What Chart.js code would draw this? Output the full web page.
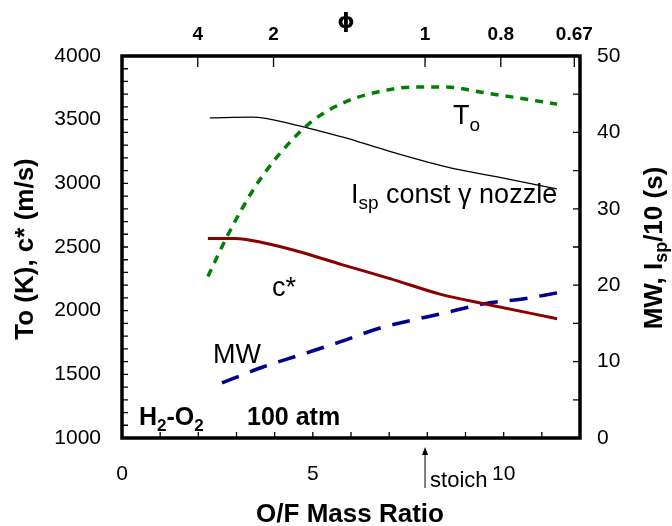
<!DOCTYPE html>
<html>
<head>
<meta charset="utf-8">
<script src="https://cdn.jsdelivr.net/npm/chart.js@4.4.1/dist/chart.umd.min.js"></script>
<style>
  html, body { margin: 0; padding: 0; background: #fff; }
</style>
</head>
<body>
<canvas id="chart" width="672" height="526"></canvas>
<script>
const FONT = "'Liberation Sans', Arial, sans-serif";

// O/F mass ratio and values
const t0OF = [2.25, 2.78, 3.48, 4.19, 4.98, 5.84, 6.8, 7.62, 8.51, 9.38, 10.24, 11.4];
const t0K = [2268, 2598, 2969, 3252, 3488, 3638, 3724, 3756, 3756, 3717, 3677, 3622];

const cStarOF = [2.25, 2.96, 3.67, 4.72, 5.76, 7.02, 8.33, 9.64, 11.4];
const cStar = [2567, 2567, 2535, 2457, 2362, 2252, 2130, 2045, 1937];

const ispOF = [2.3, 3.41, 4.53, 5.84, 6.76, 8.5, 9.8, 11.4];
const ispOver10 = [41.9, 42.0, 41.0, 39.3, 37.9, 35.5, 34.2, 32.6];

const mwOF = [2.62, 3.62, 4.66, 5.71, 6.76, 7.28, 8.3, 9.64, 10.5, 11.4];
const mw = [7.2, 9.16, 10.86, 12.57, 14.4, 15.05, 16.2, 17.7, 18.2, 19.0];

// top axis: equivalence ratio
const phiLabels = ["4", "2", "1", "0.8", "0.67"];
const phiValues = [4, 2, 1, 0.8, 0.67];
const stoichOF = 7.94;

const pts = (xs, ys) => xs.map((x, i) => ({ x, y: ys[i] }));

// draw text pieces one after another (for subscripts)
function drawRuns(ctx, x, y, runs) {
  runs.forEach((r) => {
    ctx.font = (r.bold ? "bold " : "") + r.size + "px " + FONT;
    ctx.fillText(r.t, x, y + (r.dy || 0));
    x += ctx.measureText(r.t).width;
  });
  return x;
}
function runsWidth(ctx, runs) {
  let w = 0;
  runs.forEach((r) => {
    ctx.font = (r.bold ? "bold " : "") + r.size + "px " + FONT;
    w += ctx.measureText(r.t).width;
  });
  return w;
}

const decor = {
  id: "decor",
  afterDraw(chart) {
    const { ctx, chartArea: a, scales } = chart;
    const x = scales.x, y = scales.y, y1 = scales.y1;
    ctx.save();
    ctx.strokeStyle = "#000";
    ctx.fillStyle = "#000";

    // frame
    ctx.lineWidth = 3.5;
    ctx.strokeRect(a.left, a.top, a.right - a.left, a.bottom - a.top);

    // inward tick marks
    ctx.lineWidth = 1.3;
    ctx.beginPath();
    for (let v = 1; v <= 11; v++) {
      const px = x.getPixelForValue(v);
      ctx.moveTo(px, a.bottom); ctx.lineTo(px, a.bottom - 6);
    }
    for (let v = 1100; v < 4000; v += 100) {
      const py = y.getPixelForValue(v);
      ctx.moveTo(a.left, py); ctx.lineTo(a.left + 6, py);
    }
    for (let v = 5; v < 50; v += 5) {
      const py = y1.getPixelForValue(v);
      ctx.moveTo(a.right, py); ctx.lineTo(a.right - 7, py);
    }
    phiValues.forEach((p) => {
      const px = x.getPixelForValue(stoichOF / p);
      ctx.moveTo(px, a.top); ctx.lineTo(px, a.top + 11);
    });
    ctx.stroke();

    // stoich arrow
    const sx = x.getPixelForValue(stoichOF);
    ctx.lineWidth = 1;
    ctx.beginPath();
    ctx.moveTo(sx, 488); ctx.lineTo(sx, 450);
    ctx.stroke();
    ctx.beginPath();
    ctx.moveTo(sx, 447); ctx.lineTo(sx - 3, 455); ctx.lineTo(sx + 3, 455);
    ctx.closePath(); ctx.fill();
    ctx.textAlign = "left";
    ctx.textBaseline = "alphabetic";
    drawRuns(ctx, sx + 5, 487, [{ t: "stoich", size: 22 }]);

    // curve labels
    drawRuns(ctx, 453, 124, [{ t: "T", size: 27 }, { t: "o", size: 19, dy: 7 }]);
    drawRuns(ctx, 351, 203, [{ t: "I", size: 27 }, { t: "sp", size: 19, dy: 6 }, { t: " const γ nozzle", size: 27 }]);
    drawRuns(ctx, 272, 296, [{ t: "c*", size: 27 }]);
    drawRuns(ctx, 213, 363, [{ t: "MW", size: 27 }]);

    drawRuns(ctx, 139, 425, [
      { t: "H", size: 25, bold: true }, { t: "2", size: 17, bold: true, dy: 6 },
      { t: "-O", size: 25, bold: true }, { t: "2", size: 17, bold: true, dy: 6 },
    ]);
    drawRuns(ctx, 247, 425, [{ t: "100 atm", size: 25, bold: true }]);

    // axis titles
    ctx.textAlign = "left";
    const bottomRuns = [{ t: "O/F Mass Ratio", size: 26, bold: true }];
    drawRuns(ctx, 350 - runsWidth(ctx, bottomRuns) / 2, 522, bottomRuns);

    const leftRuns = [{ t: "To (K), c* (m/s)", size: 26, bold: true }];
    ctx.save();
    ctx.translate(33, 249);
    ctx.rotate(-Math.PI / 2);
    drawRuns(ctx, -runsWidth(ctx, leftRuns) / 2, 0, leftRuns);
    ctx.restore();

    const rightRuns = [
      { t: "MW, I", size: 26, bold: true }, { t: "sp", size: 18, bold: true, dy: 5 },
      { t: "/10 (s)", size: 26, bold: true },
    ];
    ctx.save();
    ctx.translate(662, 248);
    ctx.rotate(-Math.PI / 2);
    drawRuns(ctx, -runsWidth(ctx, rightRuns) / 2, 0, rightRuns);
    ctx.restore();

    // phi title
    ctx.font = "bold 22px 'DejaVu Sans', sans-serif";
    ctx.textAlign = "center";
    ctx.fillText("ϕ", 346, 28);

    ctx.restore();
  },
};

const tickFont = { family: FONT, size: 21 };
const plain = (v) => String(v);

new Chart(document.getElementById("chart"), {
  type: "scatter",
  data: {
    datasets: [
      {
        label: "c*",
        data: pts(cStarOF, cStar),
        yAxisID: "y",
        borderColor: "#8b0000",
        borderWidth: 3,
      },
      {
        label: "MW",
        data: pts(mwOF, mw),
        yAxisID: "y1",
        borderColor: "#000090",
        borderWidth: 3.5,
        borderDash: [18, 12],
      },
      {
        label: "Isp/10",
        data: pts(ispOF, ispOver10),
        yAxisID: "y1",
        borderColor: "#000",
        borderWidth: 1.3,
      },
      {
        label: "To",
        data: pts(t0OF, t0K),
        yAxisID: "y",
        borderColor: "#008000",
        borderWidth: 3.5,
        borderDash: [8, 7],
      },
    ].map((d) => ({ ...d, showLine: true, pointRadius: 0, cubicInterpolationMode: "monotone", fill: false })),
  },
  options: {
    responsive: false,
    animation: false,
    layout: { padding: 0 },
    plugins: { legend: { display: false }, tooltip: { enabled: false } },
    scales: {
      x: {
        type: "linear",
        position: "bottom",
        min: 0,
        max: 12,
        grid: { display: false, drawTicks: false },
        border: { display: false },
        ticks: { stepSize: 5, includeBounds: false, color: "#000", font: tickFont, padding: 24, maxRotation: 0, callback: plain },
        afterFit: (s) => { s.height = 88; },
      },
      xTop: {
        type: "linear",
        position: "top",
        min: 0,
        max: 12,
        grid: { display: false, drawTicks: false },
        border: { display: false },
        afterBuildTicks: (s) => { s.ticks = phiValues.map((p) => ({ value: stoichOF / p })); },
        ticks: {
          autoSkip: false,
          maxRotation: 0,
          color: "#000",
          font: { family: FONT, size: 19, weight: "bold" },
          padding: 10,
          callback: (v, i) => phiLabels[i],
        },
        afterFit: (s) => { s.height = 56; },
      },
      y: {
        position: "left",
        min: 1000,
        max: 4000,
        grid: { display: false, drawTicks: false },
        border: { display: false },
        ticks: { stepSize: 500, color: "#000", font: tickFont, padding: 21, callback: plain },
        afterFit: (s) => { s.width = 122; },
      },
      y1: {
        position: "right",
        min: 0,
        max: 50,
        grid: { display: false, drawTicks: false },
        border: { display: false },
        ticks: { stepSize: 10, color: "#000", font: tickFont, padding: 17, callback: plain },
        afterFit: (s) => { s.width = 92; },
      },
    },
  },
  plugins: [decor],
});
</script>
</body>
</html>
